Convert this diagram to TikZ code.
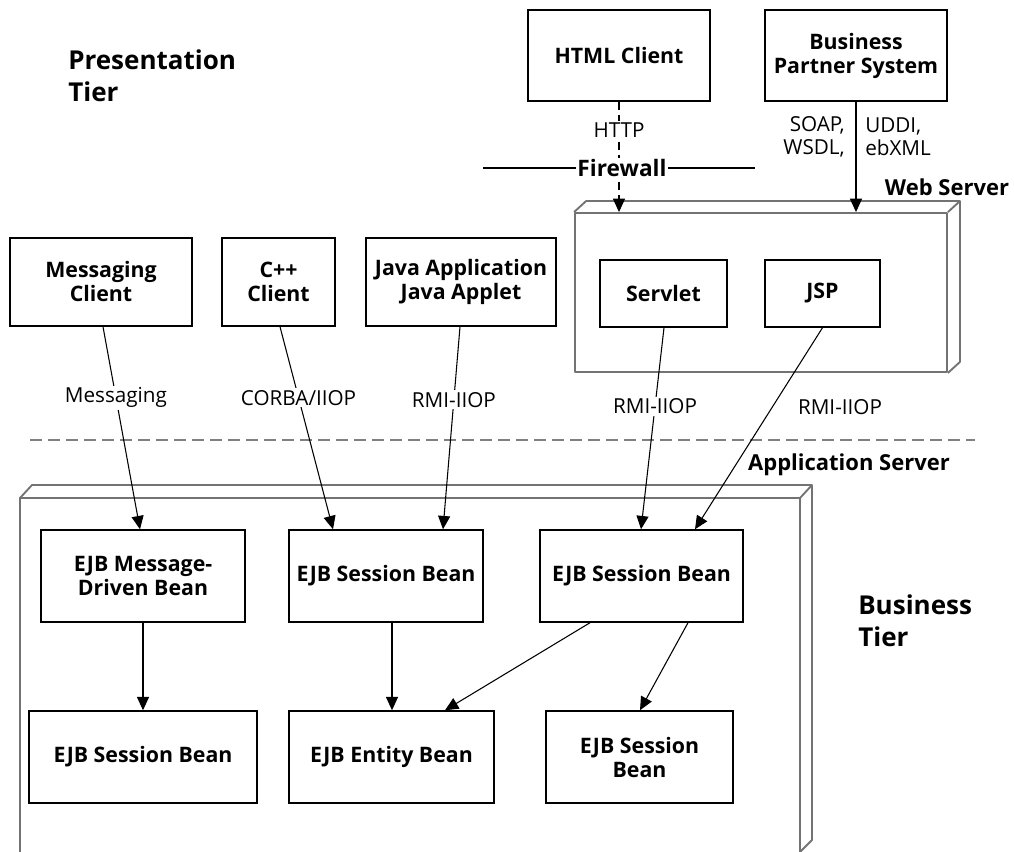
\documentclass[tikz,border=0pt]{standalone}
\usepackage{fontspec}
\setmainfont{Open Sans}
\usetikzlibrary{arrows.meta,calc}
\tikzset{
  box/.style={draw=black, line width=1.1pt, align=center, inner sep=0pt, font=\fontsize{16}{18}\selectfont\bfseries},
  arr/.style={line width=0.8pt, -{Triangle[length=10pt,width=9pt]}},
  lbl/.style={fill=white, inner sep=1.5pt, font=\fontsize{15.5}{17}\selectfont},
  plain/.style={inner sep=0pt, font=\fontsize{15.5}{17}\selectfont},
  srv/.style={draw=black!55, line width=1.4pt, line join=round},
  ttl/.style={inner sep=0pt, font=\fontsize{19.5}{24}\selectfont\bfseries, align=left},
  sub/.style={inner sep=0pt, font=\fontsize{16.5}{18}\selectfont\bfseries},
}
\begin{document}
\begin{tikzpicture}[x=0.75pt,y=-0.75pt]
\useasboundingbox (0,0) rectangle (1014,852);
\clip (0,0) rectangle (1014,852);

% titles
\node[ttl, anchor=west] (pt) at (68,76) {Presentation\\Tier};
\node[ttl, anchor=west] (bt) at (858,621) {Business\\Tier};
\node[sub] (wst) at (947,187) {Web Server};
\node[sub] (ast) at (849,465) {Application Server};

% separator
\draw[gray, line width=0.9pt, dash pattern=on 9pt off 4.5pt] (30,440) -- (975,440);

% web server container
\node[srv, draw, minimum width=279pt, minimum height=119.25pt, inner sep=0pt] (ws) at (761,292.5) {};
\draw[srv] (ws.north west) -- ++(12,-11) -- ($(ws.north east)+(12,-11)$) -- ($(ws.south east)+(12,-11)$) -- (ws.south east);
\draw[srv] (ws.north east) -- ++(12,-11);

% application server container
\draw[srv] (20,880) -- (20,498) -- (800,498) -- (800,880);
\draw[srv] (20,498) -- (32,485) -- (812,485) -- (812,840) -- (800,852);
\draw[srv] (800,498) -- (812,485);

% presentation tier boxes
\node[box, minimum width=136.5pt, minimum height=68.25pt] (html) at (619,55.5) {HTML Client};
\node[box, minimum width=136.5pt, minimum height=68.25pt] (bps) at (856,55.5) {Business\\Partner System};
\node[box, minimum width=136.5pt, minimum height=66pt] (msgc) at (101,282) {Messaging\\Client};
\node[box, minimum width=84.75pt, minimum height=66pt] (cpp) at (278.5,282) {C++\\Client};
\node[box, minimum width=142.5pt, minimum height=66pt] (java) at (461,282) {Java Application\\Java Applet};
\node[box, minimum width=95.25pt, minimum height=50.25pt] (servlet) at (663.5,293.5) {Servlet};
\node[box, minimum width=86.25pt, minimum height=50.25pt] (jsp) at (822.5,293.5) {JSP};

% business tier boxes
\node[box, minimum width=153pt, minimum height=69pt] (mdb) at (143,576) {EJB Message-\\Driven Bean};
\node[box, minimum width=145.5pt, minimum height=69pt] (sb1) at (386,576) {EJB Session Bean};
\node[box, minimum width=152.25pt, minimum height=69pt] (sb2) at (641.5,576) {EJB Session Bean};
\node[box, minimum width=171pt, minimum height=69pt] (sb3) at (143,757) {EJB Session Bean};
\node[box, minimum width=153.75pt, minimum height=69pt] (entity) at (391.5,757) {EJB Entity Bean};
\node[box, minimum width=140.25pt, minimum height=69pt] (sb4) at (639.5,757) {EJB Session\\Bean};

% HTTP through firewall
\draw[arr, dash pattern=on 6pt off 4pt] (html.south) -- (html.south |- ws.north) node[lbl, pos=0.26] {HTTP};
\node[inner sep=1pt, fill=white, font=\fontsize{17}{18}\selectfont\bfseries] (fw) at (622,168) {Firewall};
\coordinate (fwl) at (483,168);
\coordinate (fwr) at (755,168);
\draw[line width=0.8pt] (fwl) -- (fw.west);
\draw[line width=0.8pt] (fw.east) -- (fwr);

% business partner
\draw[arr] (bps.south) -- (bps.south |- ws.north);
\node[plain, align=right, anchor=east] (soap) at (845,137) {SOAP,\\WSDL,};
\node[plain, align=left, anchor=west] (uddi) at (865,137) {UDDI,\\ebXML};

% client connectors
\draw[arr] ($(msgc.south)+(2,0)$) -- ($(mdb.north)+(-3,0)$) node[lbl, pos=0.35] {Messaging};
\draw[arr] ($(cpp.south)+(1.5,0)$) -- ($(sb1.north)+(-53,0)$) node[lbl, pos=0.35] {CORBA/IIOP};
\draw[arr] ($(java.south)+(-1,0)$) -- ($(sb1.north)+(57,0)$) node[lbl, pos=0.36] {RMI-IIOP};
\draw[arr] ($(servlet.south)+(0.5,0)$) -- ($(sb2.north)+(-0.5,0)$) node[lbl, pos=0.39] {RMI-IIOP};
\draw[arr] (jsp.south) -- ($(sb2.north)+(53.5,0)$);
\node[plain] (jspl) at (840,407) {RMI-IIOP};

% business tier connectors
\draw[arr] (mdb.south) -- (sb3.north);
\draw[arr] ($(sb1.south)+(6,0)$) -- ($(entity.north)+(0.5,0)$);
\draw[arr] ($(sb2.south)+(-51.5,0)$) -- ($(entity.north)+(53.5,0)$);
\draw[arr] ($(sb2.south)+(46.5,0)$) -- ($(sb4.north)+(0.5,0)$);
\end{tikzpicture}
\end{document}
